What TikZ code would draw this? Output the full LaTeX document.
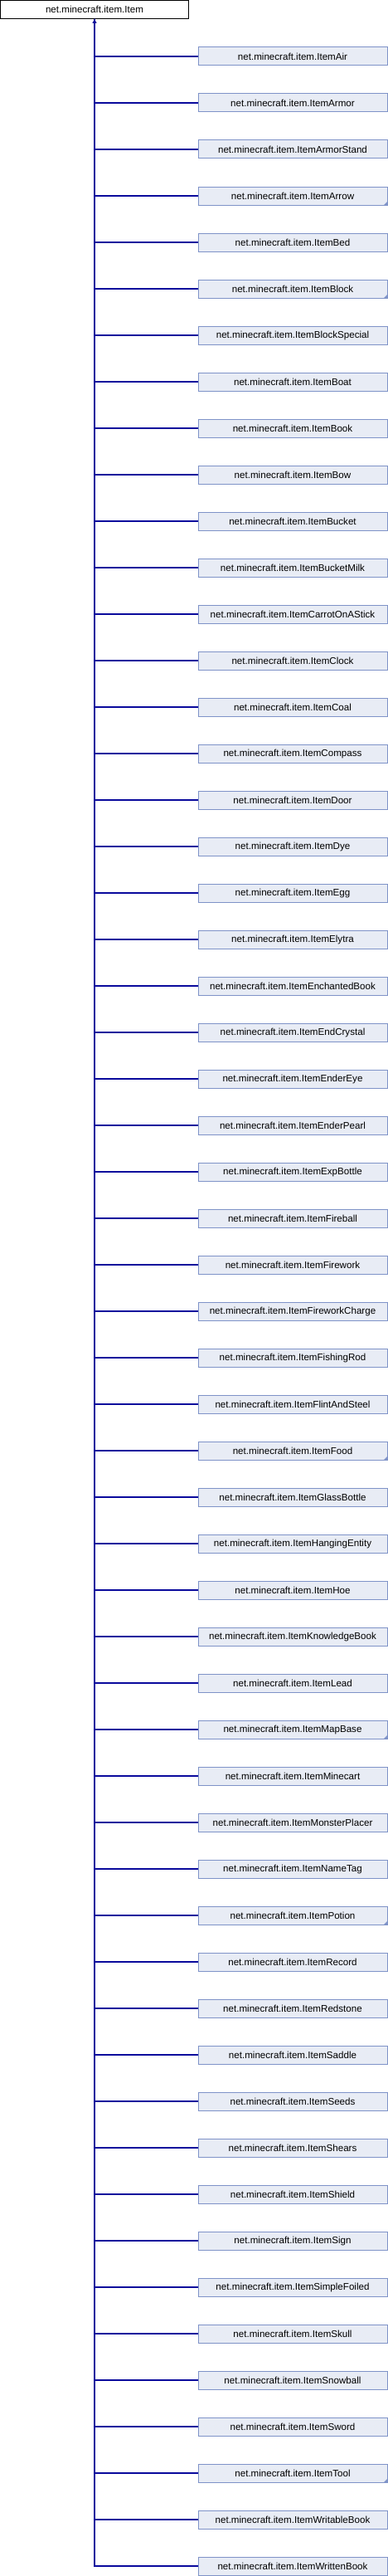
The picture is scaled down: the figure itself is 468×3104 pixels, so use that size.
\documentclass[tikz,border=0pt]{standalone}
\usepackage{fontspec}
\setmainfont{Liberation Sans}
\usetikzlibrary{arrows.meta}

\definecolor{boxfill}{HTML}{E8ECF5}
\definecolor{boxedge}{HTML}{7F93C8}
\definecolor{linkblue}{HTML}{0A0A9C}

\tikzset{
  base/.style={draw=black,fill=white,line width=1pt,minimum width=227pt,
    minimum height=22pt,inner sep=0pt,font=\fontsize{11.6}{13}\selectfont},
  sub/.style={draw=boxedge,fill=boxfill,line width=1pt,minimum width=228pt,
    minimum height=22pt,inner sep=0pt,font=\fontsize{11.6}{13}\selectfont},
  link/.style={draw=linkblue,line width=1.1pt},
}

\begin{document}
\begin{tikzpicture}[x=1pt,y=-1pt]
  \useasboundingbox (0,0) rectangle (468,3104);

  \node[base] (item) at (114,11.5) {net.minecraft.item.Item};

  \foreach \i/\cls/\more in {
    0/Air/0, 1/Armor/0, 2/ArmorStand/0, 3/Arrow/1, 4/Bed/0,
    5/Block/1, 6/BlockSpecial/0, 7/Boat/0, 8/Book/0, 9/Bow/0,
    10/Bucket/0, 11/BucketMilk/0, 12/CarrotOnAStick/0, 13/Clock/0, 14/Coal/0,
    15/Compass/0, 16/Door/0, 17/Dye/0, 18/Egg/0, 19/Elytra/0,
    20/EnchantedBook/0, 21/EndCrystal/0, 22/EnderEye/0, 23/EnderPearl/0, 24/ExpBottle/0,
    25/Fireball/0, 26/Firework/0, 27/FireworkCharge/0, 28/FishingRod/0, 29/FlintAndSteel/0,
    30/Food/1, 31/GlassBottle/0, 32/HangingEntity/0, 33/Hoe/0, 34/KnowledgeBook/0,
    35/Lead/0, 36/MapBase/1, 37/Minecart/0, 38/MonsterPlacer/0, 39/NameTag/0,
    40/Potion/1, 41/Record/0, 42/Redstone/0, 43/Saddle/0, 44/Seeds/0,
    45/Shears/0, 46/Shield/0, 47/Sign/0, 48/SimpleFoiled/0, 49/Skull/0,
    50/Snowball/0, 51/Sword/0, 52/Tool/1, 53/WritableBook/0, 54/WrittenBook/0}
  {
    \node[sub] (item\cls) at (353,68+\i*56) {net.minecraft.item.Item\cls};
    \draw[link] (item.south) |- (item\cls.west);
    % subclasses of their own get the corner mark
    \ifnum\more=1
      \fill[boxedge] (item\cls.south east) -- ++(-5,0) -- ++(5,-5) -- cycle;
    \fi
  }

  \draw[link,-{Triangle[width=5pt,length=5pt]}] (itemAir.west -| item.south) -- (item.south);
\end{tikzpicture}
\end{document}
